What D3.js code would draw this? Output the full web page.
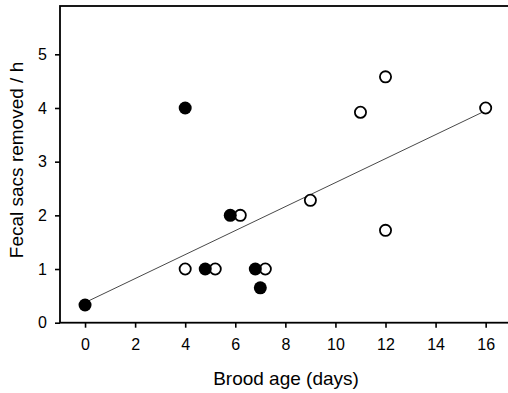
<!DOCTYPE html>
<html>
<head>
<meta charset="utf-8">
<script src="https://cdn.jsdelivr.net/npm/d3@7"></script>
<style>
  body { margin: 0; background: #fff; }
  svg { display: block; font-family: "Liberation Sans", Arial, sans-serif; }
</style>
</head>
<body>
<figure id="scatter" style="margin:0"></figure>
<script>
// filled circles
const filledAge = [0, 4, 4.8, 5.8, 6.8, 7];
const filledRate = [0.33, 4.0, 1.0, 2.0, 1.0, 0.65];
// open circles
const openAge = [4, 5.2, 6.2, 7.2, 9, 11, 12, 12, 16];
const openRate = [1.0, 1.0, 2.0, 1.0, 2.28, 3.92, 4.58, 1.72, 4.0];
// regression line endpoints
const fitAge = [0, 16];
const fitRate = [0.375, 3.95];
const xTicks = [0, 2, 4, 6, 8, 10, 12, 14, 16];
const yTicks = [0, 1, 2, 3, 4, 5];

const W = 508, H = 393;
const margin = { left: 60, top: 6 };
const width = 450.7;
const height = 316.7;

const svg = d3.select("figure#scatter")
  .append("svg")
  .attr("width", W)
  .attr("height", H);

const g = svg.append("g")
  .attr("transform", "translate(" + margin.left + "," + margin.top + ")");

const x = d3.scaleLinear().domain([-1, 17]).range([0, width]);
const y = d3.scaleLinear().domain([0, 5.9]).range([height, 0]);

// frame
g.append("rect")
  .attr("x", 0).attr("y", 0)
  .attr("width", width).attr("height", height)
  .attr("fill", "none")
  .attr("stroke", "#000")
  .attr("stroke-width", 1.8);

const xAxis = g.append("g")
  .attr("transform", "translate(0," + height + ")")
  .call(d3.axisBottom(x).tickValues(xTicks).tickSize(5).tickPadding(11).tickFormat(d3.format("d")));

const yAxis = g.append("g")
  .call(d3.axisLeft(y).tickValues(yTicks).tickSize(5).tickPadding(8).tickFormat(d3.format("d")));

[xAxis, yAxis].forEach(a => {
  a.select(".domain").remove();
  a.selectAll("line").attr("stroke", "#000").attr("stroke-width", 1.6);
  a.selectAll("text").attr("font-size", 16).attr("fill", "#000")
    .attr("font-family", "'Liberation Sans', Arial, sans-serif");
});

// fit line
const fit = fitAge.map((d, i) => ({ a: d, r: fitRate[i] }));
g.append("path")
  .datum(fit)
  .attr("d", d3.line().x(d => x(d.a)).y(d => y(d.r)))
  .attr("fill", "none")
  .attr("stroke", "#333")
  .attr("stroke-width", 0.9);

g.selectAll("circle.open")
  .data(openAge.map((d, i) => ({ a: d, r: openRate[i] })))
  .enter().append("circle")
  .attr("class", "open")
  .attr("cx", d => x(d.a))
  .attr("cy", d => y(d.r))
  .attr("r", 5.6)
  .attr("fill", "#fff")
  .attr("stroke", "#000")
  .attr("stroke-width", 1.8);

g.selectAll("circle.filled")
  .data(filledAge.map((d, i) => ({ a: d, r: filledRate[i] })))
  .enter().append("circle")
  .attr("class", "filled")
  .attr("cx", d => x(d.a))
  .attr("cy", d => y(d.r))
  .attr("r", 6.5)
  .attr("fill", "#000");

svg.append("text")
  .attr("x", 286)
  .attr("y", 385)
  .attr("text-anchor", "middle")
  .attr("font-size", 19)
  .text("Brood age (days)");

svg.append("text")
  .attr("transform", "translate(23,160) rotate(-90)")
  .attr("text-anchor", "middle")
  .attr("font-size", 19)
  .text("Fecal sacs removed / h");
</script>
</body>
</html>
